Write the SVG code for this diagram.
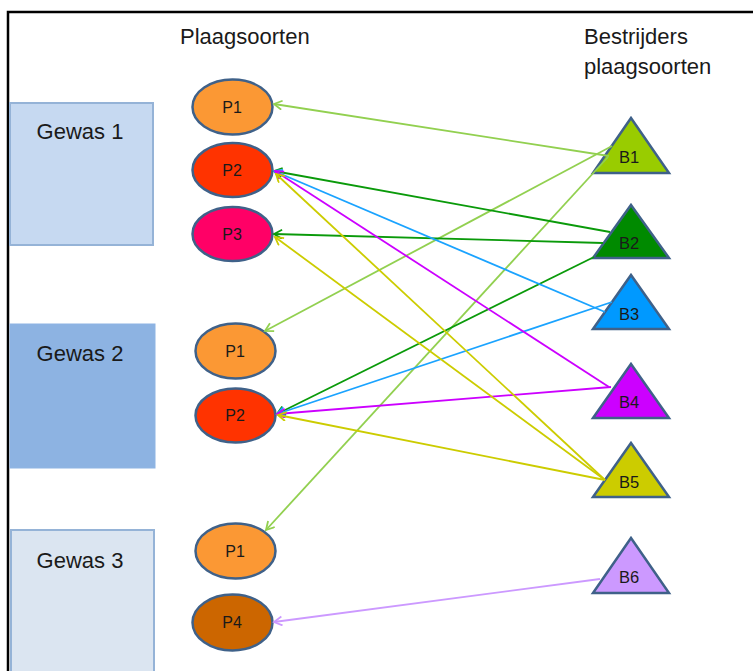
<svg xmlns="http://www.w3.org/2000/svg" width="753" height="671" viewBox="0 0 753 671">
<style>
text{font-family:"Liberation Sans",Arial,sans-serif;fill:#1a1a1a}
.h{font-size:22px}
.g{font-size:22px;text-anchor:middle}
.n{font-size:16px;text-anchor:middle}
.b{font-size:16.5px;text-anchor:middle}
.e{stroke:#3f6189;stroke-width:2.5}
.t{stroke:#3f6189;stroke-width:2.5;stroke-linejoin:miter}
.c line{stroke-width:1.8;fill:none}
</style>
<defs>
<marker id="mLG" markerUnits="userSpaceOnUse" markerWidth="12" markerHeight="12" refX="9" refY="5" orient="auto"><path d="M1,0.5 L9,5 L1,9.5" fill="none" stroke="#92d050" stroke-width="1.8"/></marker>
<marker id="mG" markerUnits="userSpaceOnUse" markerWidth="12" markerHeight="12" refX="9" refY="5" orient="auto"><path d="M1,0.5 L9,5 L1,9.5" fill="none" stroke="#0a9a0a" stroke-width="1.8"/></marker>
<marker id="mB" markerUnits="userSpaceOnUse" markerWidth="12" markerHeight="12" refX="9" refY="5" orient="auto"><path d="M1,0.5 L9,5 L1,9.5" fill="none" stroke="#1aa3ff" stroke-width="1.8"/></marker>
<marker id="mM" markerUnits="userSpaceOnUse" markerWidth="12" markerHeight="12" refX="9" refY="5" orient="auto"><path d="M1,0.5 L9,5 L1,9.5" fill="none" stroke="#cc00ff" stroke-width="1.8"/></marker>
<marker id="mY" markerUnits="userSpaceOnUse" markerWidth="12" markerHeight="12" refX="9" refY="5" orient="auto"><path d="M1,0.5 L9,5 L1,9.5" fill="none" stroke="#cccc00" stroke-width="1.8"/></marker>
<marker id="mL" markerUnits="userSpaceOnUse" markerWidth="12" markerHeight="12" refX="9" refY="5" orient="auto"><path d="M1,0.5 L9,5 L1,9.5" fill="none" stroke="#cc99ff" stroke-width="1.8"/></marker>
</defs>
<rect x="0" y="0" width="753" height="671" fill="#ffffff"/>
<rect x="8" y="12" width="780" height="700" fill="#ffffff" stroke="#000000" stroke-width="2.5"/>
<text class="h" x="180" y="44">Plaagsoorten</text>
<text class="h" x="584" y="44">Bestrijders</text>
<text class="h" x="584" y="74">plaagsoorten</text>

<g id="gewas1"><rect x="10" y="103" width="143" height="142" fill="#c6d9f1" stroke="#95b3d7" stroke-width="2"/><text class="g" x="80" y="139">Gewas 1</text></g>
<g id="gewas2"><rect x="10" y="324" width="145" height="144" fill="#8db3e2" stroke="#8eb4e3" stroke-width="1"/><text class="g" x="80" y="361">Gewas 2</text></g>
<g id="gewas3"><rect x="11" y="530" width="143" height="160" fill="#dbe5f1" stroke="#95b3d7" stroke-width="2"/><text class="g" x="80" y="568">Gewas 3</text></g>

<g id="g1p1"><ellipse class="e" cx="232.5" cy="107" rx="40" ry="27.5" fill="#fb9834"/><text class="n" x="232" y="112.5">P1</text></g>
<g id="g1p2"><ellipse class="e" cx="232.5" cy="170" rx="40" ry="27" fill="#ff3300"/><text class="n" x="232" y="175.5">P2</text></g>
<g id="g1p3"><ellipse class="e" cx="232.5" cy="234" rx="40" ry="27" fill="#ff0066"/><text class="n" x="232" y="239.5">P3</text></g>
<g id="g2p1"><ellipse class="e" cx="235.5" cy="351" rx="40" ry="27.5" fill="#fb9834"/><text class="n" x="235" y="356.5">P1</text></g>
<g id="g2p2"><ellipse class="e" cx="235.5" cy="415.5" rx="40" ry="27" fill="#ff3300"/><text class="n" x="235" y="421">P2</text></g>
<g id="g3p1"><ellipse class="e" cx="235.5" cy="551" rx="40" ry="27.5" fill="#fb9834"/><text class="n" x="235" y="556.5">P1</text></g>
<g id="g3p4"><ellipse class="e" cx="232.5" cy="622.5" rx="40" ry="28" fill="#cc6600"/><text class="n" x="232" y="628">P4</text></g>

<g id="b1"><polygon class="t" points="631,118 669,173 593,173" fill="#99cc00"/><text class="b" x="629" y="163">B1</text></g>
<g id="b2"><polygon class="t" points="631,205 669,258 593,258" fill="#008a00"/><text class="b" x="629" y="249">B2</text></g>
<g id="b3"><polygon class="t" points="631,275 669,329 593,329" fill="#0099ff"/><text class="b" x="629" y="320">B3</text></g>
<g id="b4"><polygon class="t" points="631,364 669,418 593,418" fill="#cc00ff"/><text class="b" x="629" y="408">B4</text></g>
<g id="b5"><polygon class="t" points="631,443 669,497 593,497" fill="#cccc00"/><text class="b" x="629" y="488">B5</text></g>
<g id="b6"><polygon class="t" points="631,538 669,593 593,593" fill="#cc99ff"/><text class="b" x="629" y="583">B6</text></g>

<g id="connectors" class="c">
<line x1="609" y1="156" x2="274" y2="104" stroke="#92d050" marker-end="url(#mLG)"/>
<line x1="612" y1="146" x2="265" y2="331" stroke="#92d050" marker-end="url(#mLG)"/>
<line x1="608" y1="157" x2="266" y2="530" stroke="#92d050" marker-end="url(#mLG)"/>
<line x1="610" y1="232" x2="274" y2="171" stroke="#0a9a0a" marker-end="url(#mG)"/>
<line x1="603" y1="243" x2="274" y2="234" stroke="#0a9a0a" marker-end="url(#mG)"/>
<line x1="594" y1="257" x2="277" y2="414" stroke="#0a9a0a" marker-end="url(#mG)"/>
<line x1="605" y1="312" x2="274" y2="171" stroke="#1aa3ff" marker-end="url(#mB)"/>
<line x1="612" y1="302" x2="277" y2="414" stroke="#1aa3ff" marker-end="url(#mB)"/>
<line x1="609" y1="387" x2="275" y2="171" stroke="#cc00ff" marker-end="url(#mM)"/>
<line x1="611" y1="387" x2="277" y2="414" stroke="#cc00ff" marker-end="url(#mM)"/>
<line x1="605" y1="480" x2="276" y2="174" stroke="#cccc00" marker-end="url(#mY)"/>
<line x1="605" y1="480" x2="275" y2="237" stroke="#cccc00" marker-end="url(#mY)"/>
<line x1="605" y1="480" x2="278" y2="415" stroke="#cccc00" marker-end="url(#mY)"/>
<line x1="600" y1="579" x2="274" y2="622" stroke="#cc99ff" marker-end="url(#mL)"/>
</g>
</svg>
